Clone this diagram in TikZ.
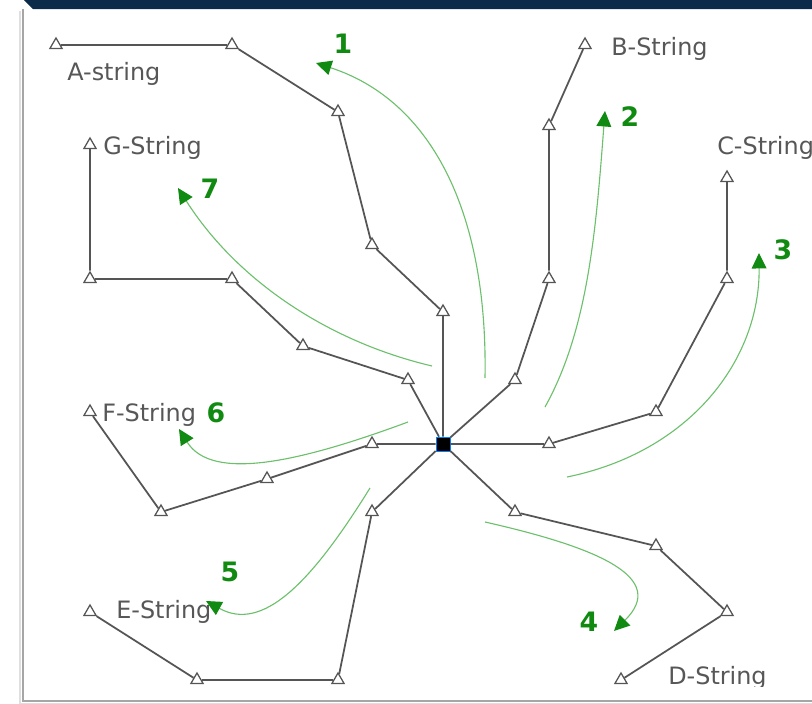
\documentclass[tikz,border=0pt]{standalone}
\usepackage{fontspec}
\setmainfont{DejaVu Sans}
\usetikzlibrary{shapes.geometric}
\usetikzlibrary{arrows.meta}
\definecolor{wire}{HTML}{555555}
\definecolor{ink}{HTML}{575757}
\definecolor{flowline}{HTML}{6CC06C}
\definecolor{flowhead}{HTML}{118A11}
\definecolor{navy}{HTML}{0C2B4B}

\begin{document}
\begin{tikzpicture}[x=0.025cm,y=-0.025cm,
  tri/.style={shape=regular polygon,regular polygon sides=3,draw=wire,line width=0.9pt,minimum size=10pt,inner sep=0pt},
  hub/.style={shape=rectangle,fill=black,draw=blue!50!cyan,line width=0.4pt,minimum size=10pt,inner sep=0pt},
  wireline/.style={draw=wire,line width=1.25pt},
  tag/.style={text=ink,anchor=base west,inner sep=0pt,font=\fontsize{17}{20}\selectfont},
  num/.style={text=flowhead,inner sep=0pt,font=\fontsize{19}{22}\selectfont\bfseries},
  flow/.style={draw=flowline,line width=0.8pt,-{Triangle[length=11pt,width=10.5pt,color=flowhead]}}]
\useasboundingbox (0,0) rectangle (812,704);
\fill[navy] (24,0) -- (812,0) -- (812,9) -- (33,9) -- cycle;
\draw[gray!25,line width=2pt] (20,11) -- (20,704) -- (812,704);
\draw[gray!70,line width=1.1pt] (23,9) -- (23,701) -- (812,701);
\begin{scope}
\clip (24,10) rectangle (812,686);
\node[hub] (O) at (443,444) {};
\node[tri] (A1) at (443,312) {};
\node[tri] (A2) at (372,245) {};
\node[tri] (A3) at (338,112) {};
\node[tri] (A4) at (232,45) {};
\node[tri] (A5) at (56,45) {};
\node[tri] (B1) at (515,380) {};
\node[tri] (B2) at (549,279) {};
\node[tri] (B3) at (549,126) {};
\node[tri] (B4) at (585,45) {};
\node[tri] (C1) at (549,444) {};
\node[tri] (C2) at (656,412) {};
\node[tri] (C3) at (727,279) {};
\node[tri] (C4) at (727,178) {};
\node[tri] (D1) at (515,512) {};
\node[tri] (D2) at (656,546) {};
\node[tri] (D3) at (727,612) {};
\node[tri] (D4) at (621,680) {};
\node[tri] (E1) at (372,512) {};
\node[tri] (E2) at (338,680) {};
\node[tri] (E3) at (197,680) {};
\node[tri] (E4) at (90,612) {};
\node[tri] (F1) at (372,444) {};
\node[tri] (F2) at (267,479) {};
\node[tri] (F3) at (161,512) {};
\node[tri] (F4) at (90,412) {};
\node[tri] (G1) at (408,380) {};
\node[tri] (G2) at (303,346) {};
\node[tri] (G3) at (232,279) {};
\node[tri] (G4) at (90,279) {};
\node[tri] (G5) at (90,145) {};
\draw[wireline] (O) -- (A1) -- (A2) -- (A3) -- (A4) -- (A5);
\draw[wireline] (O) -- (B1) -- (B2) -- (B3) -- (B4);
\draw[wireline] (O) -- (C1) -- (C2) -- (C3) -- (C4);
\draw[wireline] (O) -- (D1) -- (D2) -- (D3) -- (D4);
\draw[wireline] (O) -- (E1) -- (E2) -- (E3) -- (E4);
\draw[wireline] (O) -- (F1) -- (F2) -- (F3) -- (F4);
\draw[wireline] (O) -- (G1) -- (G2) -- (G3) -- (G4) -- (G5);
\node[tag] (LA) at (67,80) {A-string};
\node[tag] (LB) at (611,55) {B-String};
\node[tag] (LC) at (717,154) {C-String};
\node[tag] (LD) at (668,684) {D-String};
\node[tag] (LE) at (116,618) {E-String};
\node[tag] (LF) at (102,421) {F-String};
\node[tag] (LG) at (103,154) {G-String};
\coordinate (s1) at (485,378);
\coordinate (e1) at (316,63);
\coordinate (s2) at (545,407);
\coordinate (e2) at (605,111);
\coordinate (s3) at (567,477);
\coordinate (e3) at (759,253);
\coordinate (s4) at (485,522);
\coordinate (e4) at (614,631);
\coordinate (s5) at (370,488);
\coordinate (e5) at (206,601);
\coordinate (s6) at (408,422);
\coordinate (e6) at (179,429);
\coordinate (s7) at (432,366);
\coordinate (e7) at (178,188);
\draw[flow] (s1) .. controls (488,210) and (430,100) .. (e1);
\draw[flow] (s2) .. controls (588,330) and (596,230) .. (e2);
\draw[flow] (s3) .. controls (690,452) and (760,360) .. (e3);
\draw[flow] (s4) .. controls (600,548) and (668,578) .. (e4);
\draw[flow] (s5) .. controls (310,585) and (262,632) .. (e5);
\draw[flow] (s6) .. controls (300,462) and (212,482) .. (e6);
\draw[flow] (s7) .. controls (330,342) and (238,282) .. (e7);
\node[num] (N1) at (343,44) {1};
\node[num] (N2) at (630,117) {2};
\node[num] (N3) at (783,250) {3};
\node[num] (N4) at (589,622) {4};
\node[num] (N5) at (230,572) {5};
\node[num] (N6) at (216,413) {6};
\node[num] (N7) at (210,189) {7};
\end{scope}
\end{tikzpicture}
\end{document}
